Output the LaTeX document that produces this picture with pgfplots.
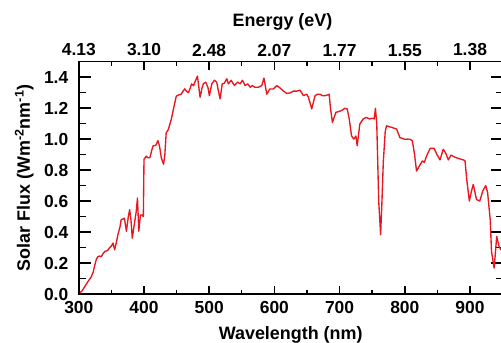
\documentclass[border=0pt]{standalone}
\usepackage{pgfplots}
\pgfplotsset{compat=1.18}
\usepackage{fontspec}
\setmainfont{Liberation Sans}
\definecolor{spec}{RGB}{232,22,30}
\begin{document}
\begin{tikzpicture}
\pgfplotsset{
  base/.style={
    scale only axis, width=423.8bp, height=232.3bp,
    xmin=300, xmax=950, ymin=0, ymax=1.5,
    at={(0,0)}, anchor=south west,
    tick align=inside,
    /pgf/number format/assume math mode=true,
    tick label style={font=\fontsize{17.5}{20}\selectfont\bfseries},
    label style={font=\fontsize{18}{21}\selectfont\bfseries},
    axis line style={line width=1.6bp, -},
    major tick style={line width=1.6bp, black},
    minor tick style={line width=1.4bp, black},
  }
}
% main axis: y axis both sides, data
\begin{axis}[base,
  xtick=\empty,
  ytick={0,0.2,0.4,0.6,0.8,1.0,1.2,1.4},
  yticklabels={0.0,0.2,0.4,0.6,0.8,1.0,1.2,1.4},
  minor ytick={0.1,0.3,0.5,0.7,0.9,1.1,1.3},
  ytick pos=both, yticklabel pos=left,
  major tick length=12bp, minor tick length=7bp,
  yticklabel style={xshift=-7bp},
  ylabel={Solar Flux (Wm\textsuperscript{-2}nm\textsuperscript{-1})},
  ylabel style={at={(rel axis cs:-0.1152,0.5)}, anchor=base},
]
\addplot[spec, line width=1.35bp, line join=round] coordinates {
(300,0.0) (305,0.02) (309,0.047) (314,0.08) (319,0.11) (322,0.14) (324,0.177)
(327,0.225) (329.5,0.242) (332,0.245) (334.5,0.24) (337,0.26) (340,0.275)
(344,0.28) (347,0.297) (350,0.31) (352.5,0.329) (355,0.285) (358,0.34)
(360,0.383) (363,0.43) (365,0.48) (368,0.485) (370,0.49) (373,0.405)
(376,0.5) (378,0.545) (380,0.48) (382,0.36) (385.5,0.46) (388,0.53)
(390,0.62) (392,0.405) (394.5,0.51) (397,0.51) (399,0.5) (400,0.87)
(403.5,0.89) (406,0.88) (409,0.88) (412,0.93) (414,0.957) (418,0.96)
(421.5,0.99) (424,0.95) (426.5,0.88) (430,0.838) (432,0.9) (434,1.04)
(437,1.06) (439,1.086) (442,1.13) (444.5,1.18) (447,1.23) (449.5,1.277)
(453,1.285) (457,1.29) (460,1.31) (462.5,1.325) (465,1.31) (468,1.30)
(471,1.33) (473,1.357) (476,1.345) (478,1.368) (482,1.407) (486,1.27)
(489,1.33) (491,1.357) (494.7,1.368) (498,1.335) (500.3,1.28) (504,1.357)
(508,1.38) (511.5,1.368) (514,1.314) (516.7,1.26) (520,1.357) (523,1.36)
(527,1.39) (529.5,1.357) (533.6,1.38) (538.7,1.346) (543.8,1.368)
(547.4,1.357) (551,1.38) (555,1.346) (559,1.357) (563,1.335) (566,1.346)
(570,1.335) (575.5,1.335) (580.6,1.346) (584,1.394) (588.3,1.29)
(593,1.324) (598.5,1.324) (603.6,1.346) (608.8,1.33) (614,1.31)
(619,1.295) (624,1.298) (629,1.31) (634,1.31) (639.4,1.316) (644.5,1.281)
(649.7,1.29) (652.2,1.27) (657.3,1.195) (662.4,1.281) (666,1.29) (670,1.29)
(674,1.28) (678,1.281) (682,1.286) (684,1.29) (686,1.2) (689,1.108)
(694.3,1.173) (700.4,1.18) (705,1.19) (708,1.199) (711.7,1.195)
(714.8,1.13) (718.3,1.021) (721.9,1.0) (725,1.02) (727,0.957) (731,1.097)
(736,1.13) (741,1.14) (746,1.13) (750.5,1.135) (753,1.13) (755,1.199)
(757,1.1) (760,0.6) (762.9,0.383) (765,0.6) (767,0.85) (770,1.05)
(772,1.086) (776,1.08) (780,1.076) (784,1.07) (787.4,1.065) (792.5,1.01)
(796,1.005) (800,0.999) (804,1.0) (808,0.999) (811.6,0.989) (815,0.9)
(818,0.794) (823,0.831) (827,0.859) (830,0.85) (833.6,0.892) (838.7,0.94)
(842,0.94) (845,0.94) (849,0.903) (854,0.866) (859,0.935) (862.7,0.91)
(866.8,0.866) (871,0.897) (877,0.883) (884.7,0.872) (889.8,0.866)
(892.4,0.86) (895,0.74) (899,0.6) (902,0.66) (905,0.708) (910,0.61)
(915,0.6) (919.5,0.664) (924,0.70) (927,0.656) (931,0.48) (933,0.275)
(937,0.167) (941,0.372) (944.6,0.307) (947.6,0.285) (950,0.3)
};
\end{axis}
% bottom wavelength axis
\begin{axis}[base,
  axis x line*=bottom, hide y axis,
  xtick={300,400,500,600,700,800,900},
  minor xtick={350,450,550,650,750,850},
  major tick length=7.5bp, minor tick length=4bp,
  xticklabel style={yshift=-3.5bp},
  xlabel={Wavelength (nm)},
  xlabel style={at={(rel axis cs:0.5,-0.198)}, anchor=base},
]
\end{axis}
% top energy axis
\begin{axis}[base,
  axis x line*=top, hide y axis,
  xtick={300,400,500,600,700,800,900},
  xticklabels={4.13,3.10,2.48,2.07,1.77,1.55,1.38},
  minor xtick={350,450,550,650,750,850},
  major tick length=8bp, minor tick length=4.5bp,
  xticklabel style={yshift=2bp},
  xlabel={Energy (eV)},
  xlabel style={at={(rel axis cs:0.4807,1.1507)}, anchor=base},
]
\end{axis}
\pgfresetboundingbox
\path[use as bounding box] (-78.8bp,-49bp) rectangle (422.2bp,294bp);
\end{tikzpicture}
\end{document}
